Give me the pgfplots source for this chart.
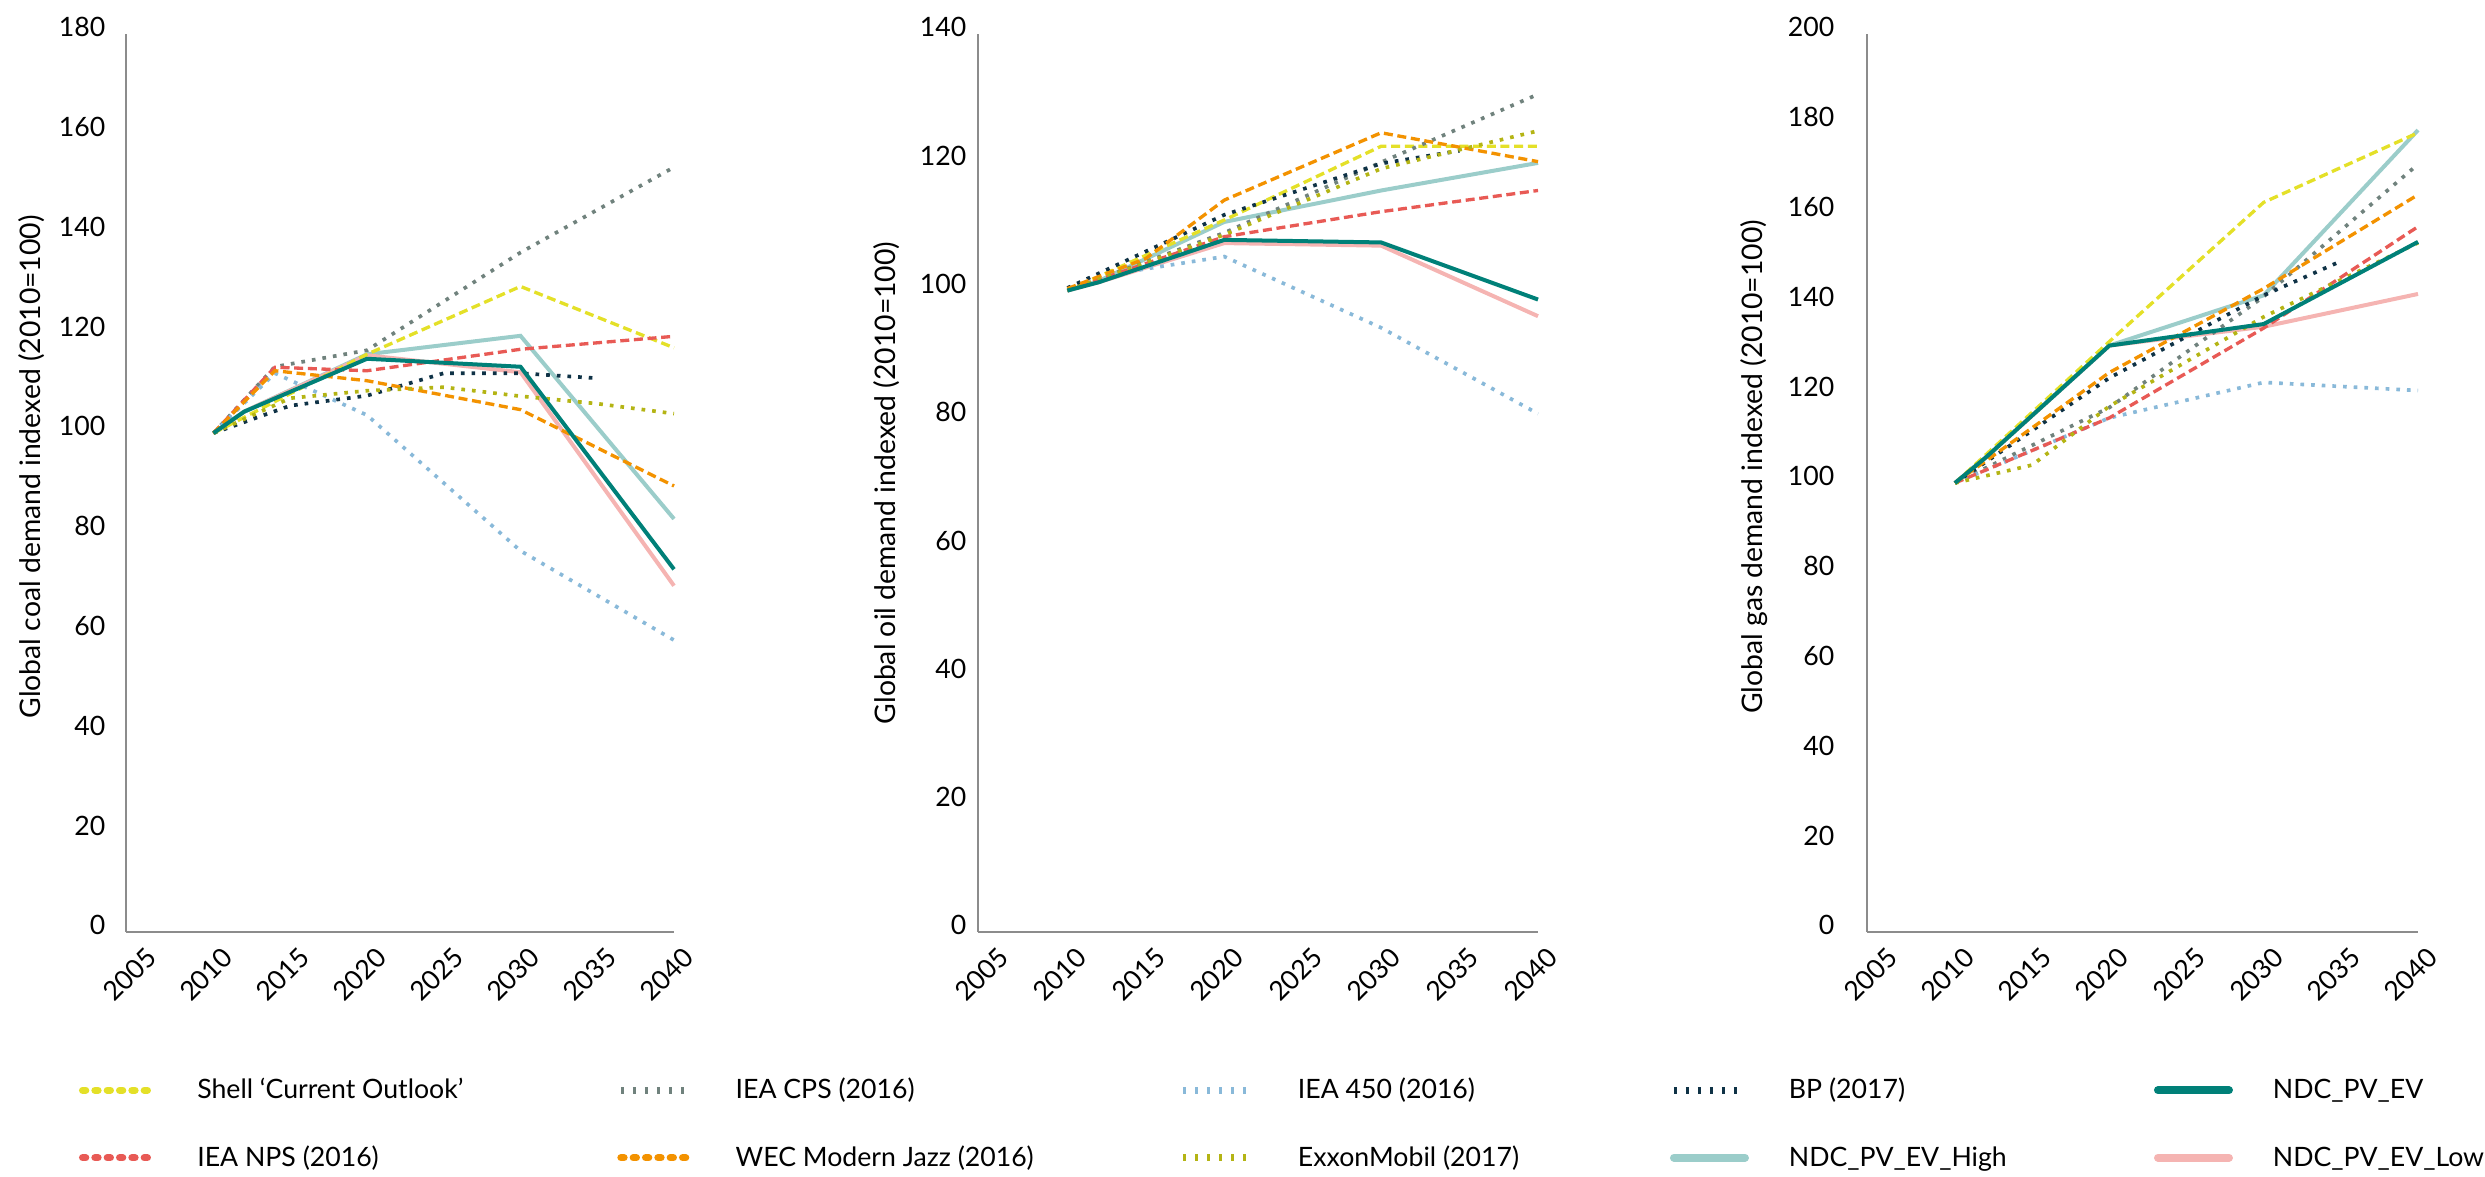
\documentclass[border=0pt]{standalone}
\usepackage{fontspec}
\setmainfont{Lato}
\usepackage{pgfplots}
\pgfplotsset{compat=1.18}
\definecolor{cShell}{RGB}{228,224,40}
\definecolor{cCPS}{RGB}{112,130,125}
\definecolor{c450}{RGB}{137,185,217}
\definecolor{cBP}{RGB}{15,50,70}
\definecolor{cNDC}{RGB}{0,128,120}
\definecolor{cNPS}{RGB}{232,90,85}
\definecolor{cWEC}{RGB}{243,146,0}
\definecolor{cXOM}{RGB}{180,180,20}
\definecolor{cHigh}{RGB}{155,205,202}
\definecolor{cLow}{RGB}{245,180,178}
\definecolor{axgray}{RGB}{140,140,140}
\tikzset{
  sDash/.style={line width=1.0pt, dash pattern=on 2.7pt off 1.4pt},
  sDot/.style={line width=1.1pt, dash pattern=on 1.1pt off 2.1pt},
  sSolid/.style={line width=1.2pt},
}
\pgfplotsset{
  panel/.style={
    scale only axis, width=165pt, height=269.4pt,
    xmin=2004.3, xmax=2040, ymin=0, clip=false,
    axis x line*=bottom, axis y line*=left,
    axis line style={draw=axgray, line width=0.6pt, -},
    xtick={2005,2010,...,2040},
    major tick length=0pt,
    tick label style={font=\fontsize{8}{9.6}\selectfont, text=black},
    xticklabel style={inner sep=0pt, xshift=4.5pt, yshift=-6pt, rotate=45, anchor=east},
    yticklabel style={inner sep=0pt, yshift=2pt},
    /pgf/number format/assume math mode=true,
    /pgf/number format/1000 sep={},
    ylabel style={font=\fontsize{8.5}{10}\selectfont, anchor=center},
  },
}
\begin{document}
\begin{tikzpicture}
\path[use as bounding box] (0pt,0pt) rectangle (745.5pt,352.8pt);
% ---------------- Coal ----------------
\begin{axis}[panel, at={(37.8pt,73.2pt)}, anchor=south west, width=164.4pt,
  ymax=180, ytick={0,20,...,180},
  yticklabel style={xshift=-6pt},
  ylabel={Global coal demand indexed (2010=100)},
  ylabel style={at={(axis description cs:-0.173,0.518)}},
  legend columns=5,
  legend style={at={(axis description cs:-0.0858,-0.2138)}, anchor=west,
    draw=none, fill=none, inner sep=0pt, outer sep=0pt,
    row sep=12pt, column sep=0pt,
    font=\fontsize{8}{9.6}\selectfont, nodes={inner sep=0pt}},
  legend cell align=left,
  legend image code/.code={\draw[#1] (0pt,0pt) -- (21.3pt,0pt);},
]
\addlegendimage{cShell, line width=2.2pt, line cap=round, dash pattern=on 0.9pt off 2.8pt}
\addlegendentry{\makebox[138pt][l]{\hspace*{12pt}\strut Shell ‘Current Outlook’}}
\addlegendimage{cCPS, line width=2.2pt, dash pattern=on 0.9pt off 2.7pt}
\addlegendentry{\makebox[145.2pt][l]{\hspace*{12pt}\strut IEA CPS (2016)}}
\addlegendimage{c450, line width=2.2pt, dash pattern=on 0.9pt off 2.7pt}
\addlegendentry{\makebox[123.6pt][l]{\hspace*{12pt}\strut IEA 450 (2016)}}
\addlegendimage{cBP, line width=2.2pt, dash pattern=on 0.9pt off 2.7pt}
\addlegendentry{\makebox[121.5pt][l]{\hspace*{12pt}\strut BP (2017)}}
\addlegendimage{cNDC, line width=2.4pt, line cap=round}
\addlegendentry{\hspace*{12pt}\strut NDC\_PV\_EV}
\addlegendimage{cNPS, line width=2.2pt, line cap=round, dash pattern=on 0.9pt off 2.8pt}
\addlegendentry{\makebox[138pt][l]{\hspace*{12pt}\strut IEA NPS (2016)}}
\addlegendimage{cWEC, line width=2.2pt, line cap=round, dash pattern=on 0.9pt off 2.8pt}
\addlegendentry{\makebox[145.2pt][l]{\hspace*{12pt}\strut WEC Modern Jazz (2016)}}
\addlegendimage{cXOM, line width=2.2pt, dash pattern=on 0.9pt off 2.7pt}
\addlegendentry{\makebox[123.6pt][l]{\hspace*{12pt}\strut ExxonMobil (2017)}}
\addlegendimage{cHigh, line width=2.4pt, line cap=round}
\addlegendentry{\makebox[121.5pt][l]{\hspace*{12pt}\strut NDC\_PV\_EV\_High}}
\addlegendimage{cLow, line width=2.4pt, line cap=round}
\addlegendentry{\hspace*{12pt}\strut NDC\_PV\_EV\_Low}
% data
\addplot[cHigh, sSolid, forget plot] coordinates {(2010,100)(2012,104.3)(2020,115.8)(2030,119.5)(2040,82.8)};
\addplot[cLow, sSolid, forget plot] coordinates {(2010,100)(2012,104.3)(2020,115.6)(2030,112.2)(2040,69.4)};
\addplot[cShell, sDash, forget plot] coordinates {(2010,100)(2020,115.8)(2030,129.4)(2040,117.1)};
\addplot[cCPS, sDot, forget plot] coordinates {(2010,100)(2014,113.3)(2020,116.6)(2030,136.2)(2040,153.3)};
\addplot[c450, sDot, forget plot] coordinates {(2010,100)(2014,112)(2020,103.6)(2030,76.4)(2040,58.5)};
\addplot[cBP, sDot, forget plot] coordinates {(2010,100)(2015,105.5)(2020,107.5)(2025,112)(2030,112)(2035,111)};
\addplot[cNPS, sDash, forget plot] coordinates {(2010,100)(2014,113.2)(2020,112.5)(2030,116.8)(2040,119.4)};
\addplot[cWEC, sDash, forget plot] coordinates {(2010,100)(2014,112.5)(2020,110.5)(2030,104.7)(2040,89.4)};
\addplot[cXOM, sDot, forget plot] coordinates {(2010,100)(2015,107)(2020,108.5)(2025,109.2)(2030,107.4)(2035,105.9)(2040,103.9)};
\addplot[cNDC, sSolid, forget plot] coordinates {(2010,100)(2012,104.3)(2020,114.9)(2030,113.3)(2040,72.7)};
\end{axis}
% ---------------- Oil ----------------
\begin{axis}[panel, at={(293.4pt,73.2pt)}, anchor=south west, width=168pt,
  ymax=140, ytick={0,20,...,140},
  yticklabel style={xshift=-3.3pt},
  ylabel={Global oil demand indexed (2010=100)},
  ylabel style={at={(axis description cs:-0.1625,0.5)}},
]
\addplot[cHigh, sSolid] coordinates {(2010,100)(2012,101.5)(2020,110.7)(2030,115.6)(2040,119.9)};
\addplot[cLow, sSolid] coordinates {(2010,100)(2012,101.3)(2020,107.4)(2030,107.0)(2040,96.0)};
\addplot[cShell, sDash] coordinates {(2010,100)(2020,111)(2030,122.5)(2040,122.5)};
\addplot[cCPS, sDot] coordinates {(2010,100)(2020,109)(2030,120)(2040,130.6)};
\addplot[c450, sDot] coordinates {(2010,100)(2014,103)(2020,105.3)(2030,94.2)(2040,80.8)};
\addplot[cBP, sDot] coordinates {(2010,100.4)(2015,106.1)(2020,111.8)(2030,119.8)(2035,121.8)};
\addplot[cNPS, sDash] coordinates {(2010,100)(2020,108.4)(2030,112.3)(2040,115.6)};
\addplot[cWEC, sDash] coordinates {(2010,100.3)(2015,105)(2020,114.1)(2030,124.6)(2040,120.1)};
\addplot[cXOM, sDot] coordinates {(2010,100)(2020,108.7)(2030,119)(2040,124.9)};
\addplot[cNDC, sSolid] coordinates {(2010,100)(2012,101.3)(2020,107.9)(2030,107.5)(2040,98.6)};
\end{axis}
% ---------------- Gas ----------------
\begin{axis}[panel, at={(560.1pt,73.2pt)}, anchor=south west, width=165.3pt,
  ymax=200, ytick={0,20,...,200},
  yticklabel style={xshift=-9.6pt},
  ylabel={Global gas demand indexed (2010=100)},
  ylabel style={at={(axis description cs:-0.205,0.518)}},
]
\addplot[cHigh, sSolid] coordinates {(2010,100)(2012,105.7)(2020,130.6)(2030,141.8)(2040,178.6)};
\addplot[cLow, sSolid] coordinates {(2010,100)(2012,105.7)(2020,130.6)(2030,134.8)(2040,142.1)};
\addplot[cShell, sDash] coordinates {(2010,100)(2020,131.5)(2030,162.5)(2040,178)};
\addplot[cCPS, sDot] coordinates {(2010,100)(2020,116.8)(2030,141.5)(2040,171)};
\addplot[c450, sDot] coordinates {(2010,100)(2020,114.5)(2030,122.4)(2040,120.6)};
\addplot[cBP, sDot] coordinates {(2010,100)(2020,123.4)(2030,141.8)(2035,149.4)};
\addplot[cNPS, sDash] coordinates {(2010,100)(2020,114.5)(2030,134.5)(2040,157.1)};
\addplot[cWEC, sDash] coordinates {(2010,100)(2020,124.6)(2030,143.3)(2040,164.2)};
\addplot[cXOM, sDot] coordinates {(2010,100)(2015,104)(2020,117.1)(2030,137)(2040,153.5)};
\addplot[cNDC, sSolid] coordinates {(2010,100)(2012,105.7)(2020,130.6)(2030,135.4)(2040,153.7)};
\end{axis}
\end{tikzpicture}
\end{document}
